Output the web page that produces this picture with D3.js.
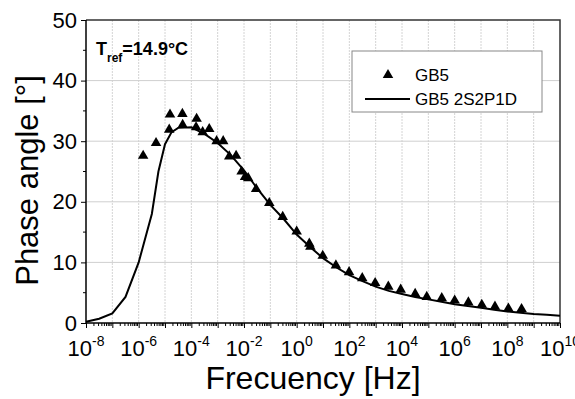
<!DOCTYPE html>
<html>
<head>
<meta charset="utf-8">
<script src="https://cdn.jsdelivr.net/npm/d3@7"></script>
<style>
  body { margin: 0; background: #fff; }
  svg { font-family: "Liberation Sans", Arial, sans-serif; }
</style>
</head>
<body>
<svg width="575" height="399"></svg>
<script>
// measured points, log10 of frequency [Hz] and phase angle [deg]
const measLogF = [-5.83, -5.34, -4.84, -4.81, -4.34, -4.33, -3.82, -3.80, -3.57, -3.32,
  -3.04, -2.79, -2.56, -2.30, -2.09, -1.96, -1.84, -1.54, -1.04, -0.53,
  0.0, 0.48, 0.52, 0.99, 1.49, 1.99, 2.49, 2.98, 3.48, 3.95,
  4.5, 4.94, 5.51, 6.0, 6.52, 7.03, 7.53, 8.04, 8.54];
const measPhase = [27.6, 29.7, 31.9, 34.4, 34.5, 32.7, 32.3, 33.7, 31.5, 32.0,
  30.0, 30.0, 27.5, 27.6, 25.0, 24.1, 23.9, 22.1, 19.8, 17.5,
  15.1, 13.1, 12.6, 11.1, 9.5, 8.4, 7.4, 6.6, 6.0, 5.5,
  4.8, 4.3, 4.1, 3.7, 3.4, 3.0, 2.7, 2.4, 2.3];

// 2S2P1D model curve
const modelLogF = [-8, -7.5, -7, -6.5, -6, -5.5, -5.25, -5, -4.75, -4.5, -4, -3.5, -3, -2.5, -2, -1.5, -1, -0.5,
  0, 0.5, 1, 1.5, 2, 2.5, 3, 3.5, 4, 4.5, 5, 5.5, 6, 6.5, 7, 7.5, 8, 8.5, 9, 9.5, 10];
const modelPhase = [0.2, 0.7, 1.6, 4.3, 10.0, 18.0, 25.0, 29.5, 31.5, 32.2, 32.3, 31.2, 29.7, 27.7, 25.2, 22.2, 19.5, 17.2,
  14.6, 12.6, 10.7, 9.2, 7.9, 6.9, 6.0, 5.3, 4.8, 4.3, 3.9, 3.5, 3.1, 2.8, 2.5, 2.2, 1.9, 1.7, 1.5, 1.35, 1.2];

const xTickExp = [-8, -6, -4, -2, 0, 2, 4, 6, 8, 10];
const yTicks = [0, 10, 20, 30, 40, 50];

const svg = d3.select("svg");
const mLeft = 86, mRight = 560, mTop = 20, mBottom = 323;

const x = d3.scaleLog().domain([1e-8, 1e10]).range([mLeft, mRight]);
const y = d3.scaleLinear().domain([0, 50]).range([mBottom, mTop]);

// minor positions
const decades = d3.range(-8, 10);
const minorX = [];
decades.forEach(e => { for (let k = 2; k <= 9; k++) minorX.push(k * Math.pow(10, e)); });
const allDecades = d3.range(-8, 11).map(e => Math.pow(10, e));

// grid
const grid = svg.append("g");
grid.selectAll(".vg")
  .data(allDecades.slice(1, -1))
  .join("line")
    .attr("x1", d => x(d)).attr("x2", d => x(d))
    .attr("y1", mTop).attr("y2", mBottom)
    .attr("stroke", "#d4d4d4")
    .attr("stroke-dasharray", "2,1");
grid.selectAll(".hg")
  .data([10, 20, 30, 40])
  .join("line")
    .attr("x1", mLeft).attr("x2", mRight)
    .attr("y1", d => y(d)).attr("y2", d => y(d))
    .attr("stroke", "#cfcfcf");

// frame top / right
svg.append("path")
  .attr("d", `M${mLeft},${mTop}H${mRight}V${mBottom}`)
  .attr("fill", "none")
  .attr("stroke", "#333")
  .attr("stroke-width", 1.5);

// x axis
const xAxis = svg.append("g")
  .attr("transform", `translate(0,${mBottom})`)
  .call(d3.axisBottom(x).tickValues(allDecades).tickSize(5).tickFormat(""));
xAxis.append("g")
  .selectAll("line")
  .data(minorX)
  .join("line")
    .attr("x1", d => x(d)).attr("x2", d => x(d))
    .attr("y1", 0).attr("y2", 3)
    .attr("stroke", "#000");
xAxis.select(".domain").attr("stroke-width", 1.5).attr("d", `M${mLeft},0H${mRight}`);

const xl = svg.append("g")
  .selectAll("text")
  .data(xTickExp)
  .join("text")
    .attr("x", d => x(Math.pow(10, d)))
    .attr("y", 356)
    .attr("text-anchor", "middle")
    .attr("font-size", 22)
    .attr("fill", "#000");
xl.append("tspan").text("10");
xl.append("tspan")
  .attr("dy", -10)
  .attr("font-size", 14)
  .text(d => d < 0 ? "-" + Math.abs(d) : String(d));

// y axis
const yAxis = svg.append("g")
  .attr("transform", `translate(${mLeft},0)`)
  .call(d3.axisLeft(y).tickValues(yTicks).tickSize(5).tickPadding(4).tickFormat(d3.format("d")));
yAxis.selectAll("text").attr("font-size", 22).attr("fill", "#000")
  .attr("font-family", "Liberation Sans, Arial, sans-serif");
yAxis.select(".domain").attr("stroke-width", 1.5).attr("d", `M0,${mTop}V${mBottom}`);
yAxis.append("g")
  .selectAll("line")
  .data([5, 15, 25, 35, 45])
  .join("line")
    .attr("x1", -3).attr("x2", 0)
    .attr("y1", d => y(d)).attr("y2", d => y(d))
    .attr("stroke", "#000");

// axis titles
svg.append("text")
  .attr("x", 313)
  .attr("y", 389)
  .attr("text-anchor", "middle")
  .attr("font-size", 32)
  .text("Frecuency [Hz]");
svg.append("text")
  .attr("transform", `translate(38,${(mTop + mBottom) / 2 + 9}) rotate(-90)`)
  .attr("text-anchor", "middle")
  .attr("font-size", 31)
  .text("Phase angle [°]");

// model line
const line = d3.line()
  .x(d => x(Math.pow(10, d[0])))
  .y(d => y(d[1]));
svg.append("path")
  .datum(modelLogF.map((f, i) => [f, modelPhase[i]]))
  .attr("fill", "none")
  .attr("stroke", "#000")
  .attr("stroke-width", 2)
  .attr("d", line);

// measured triangles
const tri = d3.symbol().type(d3.symbolTriangle).size(48);
svg.append("g")
  .selectAll("path")
  .data(measLogF.map((f, i) => [f, measPhase[i]]))
  .join("path")
    .attr("transform", d => `translate(${x(Math.pow(10, d[0]))},${y(d[1])})`)
    .attr("d", tri)
    .attr("fill", "#000");

// T ref label
const tref = svg.append("text")
  .attr("x", 96)
  .attr("y", 55)
  .attr("font-size", 18)
  .attr("font-weight", "bold");
tref.append("tspan").text("T");
tref.append("tspan").attr("dy", 7).attr("font-size", 12).text("ref");
tref.append("tspan").attr("dy", -7).text("=14.9°C");

// legend
const lg = svg.append("g");
lg.append("rect")
  .attr("x", 352).attr("y", 51)
  .attr("width", 190).attr("height", 61)
  .attr("fill", "#fff")
  .attr("stroke", "#888");
lg.append("path")
  .attr("transform", "translate(388,75)")
  .attr("d", tri)
  .attr("fill", "#000");
lg.append("text").attr("x", 415).attr("y", 81).attr("font-size", 17).text("GB5");
lg.append("line")
  .attr("x1", 365).attr("x2", 410)
  .attr("y1", 99).attr("y2", 99)
  .attr("stroke", "#000").attr("stroke-width", 2);
lg.append("text").attr("x", 415).attr("y", 105).attr("font-size", 17).text("GB5 2S2P1D");
</script>
</body>
</html>
